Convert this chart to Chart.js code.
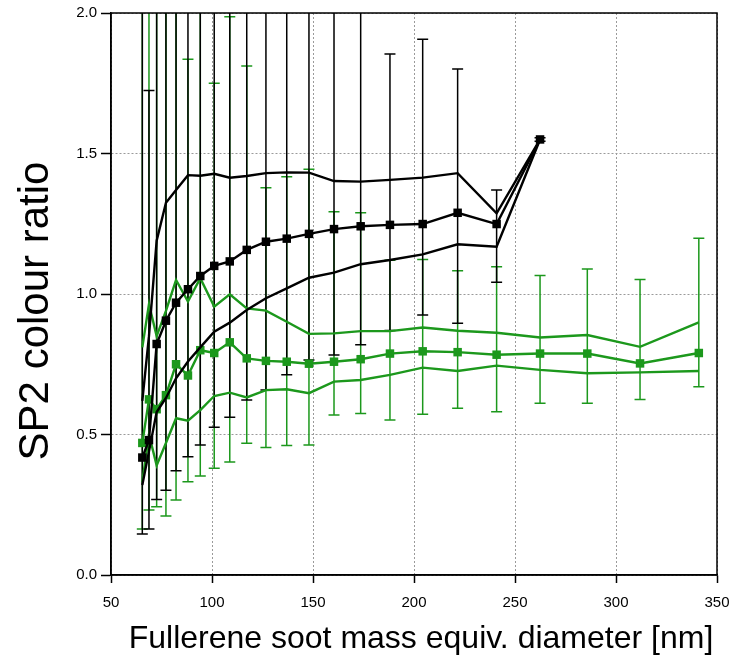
<!DOCTYPE html>
<html>
<head>
<meta charset="utf-8">
<title>SP2 colour ratio</title>
<script src="https://cdn.jsdelivr.net/npm/chart.js@4.4.1/dist/chart.umd.min.js"></script>
<style>
  html, body { margin: 0; padding: 0; background: #fff; }
  #wrap { width: 731px; height: 659px; }
</style>
</head>
<body>
<div id="wrap"><canvas id="ratioChart" width="731" height="659"></canvas></div>
<script>
// mass equivalent diameter bins [nm]
const diameters = [65.5, 68.8, 72.6, 77.2, 82.2, 88.1, 94.2, 101.1, 108.8, 117.2, 126.7, 137, 148,
  160.4, 173.6, 188.1, 204.3, 221.6, 240.9, 262.4, 285.8, 311.9, 341];

// black series (first 20 bins)
const blackMean = [0.418, 0.48, 0.822, 0.905, 0.969, 1.017, 1.064, 1.100, 1.116, 1.157, 1.186, 1.197, 1.214,
  1.231, 1.241, 1.246, 1.249, 1.289, 1.249, 1.55];
const blackHigh = [0.62, 0.85, 1.19, 1.325, 1.37, 1.423, 1.421, 1.428, 1.414, 1.42, 1.43, 1.433, 1.432,
  1.402, 1.40, 1.406, 1.414, 1.43, 1.287, 1.55];
const blackLow = [0.32, 0.44, 0.58, 0.63, 0.70, 0.76, 0.81, 0.866, 0.898, 0.943, 0.985, 1.02, 1.058,
  1.076, 1.106, 1.121, 1.141, 1.177, 1.168, 1.55];
const blackErrTop = [2.2, 1.724, 2.2, 2.2, 2.2, 2.2, 2.2, 2.2, 2.2, 2.2, 2.2, 2.2, 2.2,
  2.2, 2.2, 1.854, 1.907, 1.801, 1.37, 1.556];
const blackErrBottom = [0.146, 0.164, 0.269, 0.302, 0.371, 0.421, 0.463, 0.526, 0.561, 0.623, 0.658, 0.713, 0.765,
  0.783, 0.819, 0.870, 0.925, 0.896, 1.042, 1.544];

// green series (all 23 bins)
const greenMean = [0.47, 0.625, 0.59, 0.64, 0.75, 0.71, 0.80, 0.79, 0.828, 0.771, 0.762, 0.759, 0.752,
  0.759, 0.768, 0.788, 0.796, 0.793, 0.784, 0.788, 0.788, 0.753, 0.790];
const greenHigh = [0.81, 0.964, 0.85, 0.94, 1.05, 0.973, 1.056, 0.955, 0.999, 0.949, 0.941, 0.901, 0.858,
  0.860, 0.868, 0.868, 0.881, 0.869, 0.862, 0.845, 0.854, 0.812, 0.899];
const greenLow = [0.33, 0.50, 0.39, 0.47, 0.558, 0.549, 0.587, 0.637, 0.649, 0.632, 0.658, 0.661, 0.647,
  0.688, 0.694, 0.712, 0.738, 0.726, 0.745, 0.730, 0.718, 0.721, 0.726];
const greenErrTop = [2.2, 2.2, 2.2, 2.2, 2.2, 1.835, 2.2, 1.75, 1.987, 1.811, 1.378, 1.417, 1.444,
  1.293, 1.289, 1.12, 1.123, 1.083, 1.097, 1.066, 1.089, 1.052, 1.198];
const greenErrBottom = [0.164, 0.231, 0.243, 0.21, 0.267, 0.332, 0.352, 0.380, 0.402, 0.469, 0.454, 0.461, 0.463,
  0.569, 0.575, 0.552, 0.572, 0.593, 0.581, 0.611, 0.611, 0.625, 0.670];

const xTicks = [50, 100, 150, 200, 250, 300, 350];
const yTicks = [0.0, 0.5, 1.0, 1.5, 2.0];

const xTitle = 'Fullerene soot mass equiv. diameter [nm]';
const yTitle = 'SP2 colour ratio';

const BLACK = '#000000';
const GREEN = '#1c981c';
const FONT = "'Liberation Sans', Arial, sans-serif";

function toPoints(values) {
  return values.map((v, i) => ({ x: diameters[i], y: v }));
}

function lineSet(values, color, withMarkers, order) {
  return {
    data: toPoints(values),
    borderColor: color,
    backgroundColor: color,
    borderWidth: 2.4,
    pointStyle: 'rect',
    pointRadius: withMarkers ? 6 : 0,
    pointBorderWidth: 0,
    tension: 0,
    order: order
  };
}

/**
 * Error bars, plot frame and the two axis titles
 */
const decorPlugin = {
  id: 'decor',
  beforeDatasetsDraw(chart) {
    const { ctx, chartArea, scales } = chart;
    const drawBars = (tops, bottoms, color) => {
      ctx.save();
      ctx.beginPath();
      ctx.rect(chartArea.left, chartArea.top, chartArea.right - chartArea.left, chartArea.bottom - chartArea.top);
      ctx.clip();
      ctx.strokeStyle = color;
      ctx.lineWidth = 1.5;
      tops.forEach((top, i) => {
        const px = scales.x.getPixelForValue(diameters[i]);
        const yTop = scales.y.getPixelForValue(top);
        const yBot = scales.y.getPixelForValue(bottoms[i]);
        ctx.beginPath();
        ctx.moveTo(px, yTop);
        ctx.lineTo(px, yBot);
        ctx.moveTo(px - 5.5, yTop);
        ctx.lineTo(px + 5.5, yTop);
        ctx.moveTo(px - 5.5, yBot);
        ctx.lineTo(px + 5.5, yBot);
        ctx.stroke();
      });
      ctx.restore();
    };
    drawBars(greenErrTop, greenErrBottom, GREEN);
    drawBars(blackErrTop, blackErrBottom, BLACK);
  },
  afterDraw(chart) {
    const { ctx, chartArea } = chart;
    ctx.save();
    ctx.strokeStyle = BLACK;
    ctx.lineWidth = 1.5;
    ctx.strokeRect(chartArea.left, chartArea.top, chartArea.right - chartArea.left, chartArea.bottom - chartArea.top);

    ctx.fillStyle = BLACK;
    ctx.textAlign = 'center';
    ctx.textBaseline = 'middle';
    ctx.font = '32px ' + FONT;
    ctx.fillText(xTitle, 421, 639);

    ctx.translate(36, 311);
    ctx.rotate(-Math.PI / 2);
    ctx.font = '42px ' + FONT;
    ctx.fillText(yTitle, 0, 0);
    ctx.restore();
  }
};

const ctx = document.getElementById('ratioChart').getContext('2d');
new Chart(ctx, {
  type: 'line',
  data: {
    datasets: [
      lineSet(blackMean, BLACK, true, 1),
      lineSet(blackHigh, BLACK, false, 2),
      lineSet(blackLow, BLACK, false, 3),
      lineSet(greenMean, GREEN, true, 4),
      lineSet(greenHigh, GREEN, false, 5),
      lineSet(greenLow, GREEN, false, 6)
    ]
  },
  options: {
    responsive: false,
    animation: false,
    layout: { padding: { left: 0, right: 14, top: 13, bottom: 0 } },
    plugins: {
      legend: { display: false },
      tooltip: { enabled: false }
    },
    scales: {
      x: {
        type: 'linear',
        min: 50,
        max: 350,
        afterFit(scale) {
          scale.height = 84;
          scale.paddingLeft = 0;
          scale.paddingRight = 0;
        },
        afterBuildTicks(scale) { scale.ticks = xTicks.map(v => ({ value: v })); },
        ticks: {
          color: BLACK,
          font: { family: FONT, size: 15 },
          padding: 11,
          maxRotation: 0,
          callback: v => String(v)
        },
        grid: {
          color: '#9a9a9a',
          lineWidth: 1,
          tickLength: 8,
          tickColor: BLACK,
          tickWidth: 1.5
        },
        border: { display: true, color: BLACK, width: 1.5, dash: [2, 2] }
      },
      y: {
        type: 'linear',
        min: 0,
        max: 2,
        afterFit(scale) {
          scale.width = 111;
          scale.paddingTop = 0;
          scale.paddingBottom = 0;
        },
        afterBuildTicks(scale) { scale.ticks = yTicks.map(v => ({ value: v })); },
        ticks: {
          color: BLACK,
          font: { family: FONT, size: 15 },
          padding: 4,
          callback: v => v.toFixed(1)
        },
        grid: {
          color: '#9a9a9a',
          lineWidth: 1,
          tickLength: 10,
          tickColor: BLACK,
          tickWidth: 1.5
        },
        border: { display: true, color: BLACK, width: 1.5, dash: [2, 2] }
      }
    }
  },
  plugins: [decorPlugin]
});
</script>
</body>
</html>
